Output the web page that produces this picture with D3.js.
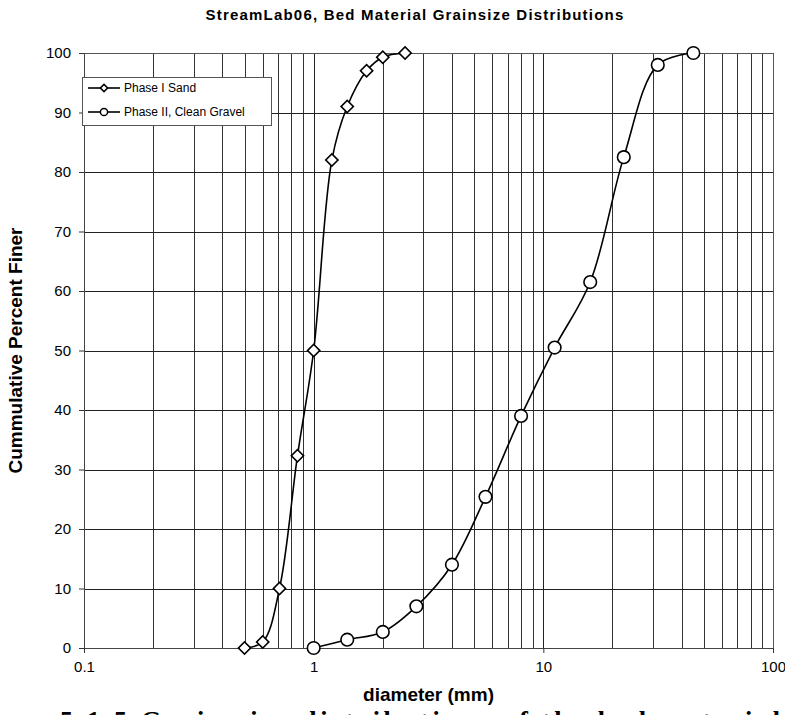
<!DOCTYPE html>
<html>
<head>
<meta charset="utf-8">
<script src="https://cdn.jsdelivr.net/npm/d3@7"></script>
<style>
  html, body { margin: 0; padding: 0; background: #fff; }
  svg { display: block; }
  text { font-family: "Liberation Sans", Arial, sans-serif; fill: #000; }
</style>
</head>
<body>
<svg id="chart" width="785" height="715"></svg>
<script>
// ---------------- data ----------------
const sandDiameters   = [0.5, 0.6, 0.71, 0.85, 1.0, 1.2, 1.4, 1.7, 2.0, 2.5];
const sandFiner       = [0, 1, 10, 32.3, 50, 82, 91, 97, 99.3, 100];
const gravelDiameters = [1, 1.4, 2, 2.8, 4, 5.6, 8, 11.2, 16, 22.4, 31.5, 45];
const gravelFiner     = [0, 1.4, 2.7, 7, 14, 25.4, 39, 50.5, 61.5, 82.5, 98, 100];
const seriesNames     = ["Phase I Sand", "Phase II, Clean Gravel"];
const xTickValues     = [0.1, 1, 10, 100];
const xTickLabels     = ["0.1", "1", "10", "100"];
const yTickValues     = [0, 10, 20, 30, 40, 50, 60, 70, 80, 90, 100];
const titleText   = "StreamLab06, Bed Material Grainsize Distributions";
const xLabelText  = "diameter (mm)";
const yLabelText  = "Cummulative Percent Finer";
const captionText = "5.1.5   Grain size distributions of the bed material";

// ---------------- layout ----------------
const svg = d3.select("#chart");
const L = 84, R = 773, T = 53, B = 648;

const x = d3.scaleLog().domain([0.1, 100]).range([L, R]);
const y = d3.scaleLinear().domain([0, 100]).range([B, T]);

// minor log grid values
const minorX = [];
[0.1, 1, 10].forEach(dec => { for (let k = 2; k <= 9; k++) minorX.push(+(dec * k).toPrecision(3)); });

const grid = svg.append("g");
grid.append("g")
  .attr("transform", `translate(0,${B})`)
  .call(d3.axisBottom(x).tickValues(minorX).tickSize(-(B - T)).tickFormat(""))
  .call(g => g.select(".domain").remove())
  .call(g => g.selectAll("line").attr("stroke", "#333").attr("stroke-width", 1).attr("shape-rendering", "crispEdges"));
grid.append("g")
  .attr("transform", `translate(0,${B})`)
  .call(d3.axisBottom(x).tickValues(xTickValues).tickSize(-(B - T)).tickFormat(""))
  .call(g => g.select(".domain").remove())
  .call(g => g.selectAll("line").attr("stroke", "#222").attr("stroke-width", 1).attr("shape-rendering", "crispEdges"));
grid.append("g")
  .attr("transform", `translate(${L},0)`)
  .call(d3.axisLeft(y).tickValues(yTickValues).tickSize(-(R - L)).tickFormat(""))
  .call(g => g.select(".domain").remove())
  .call(g => g.selectAll("line").attr("stroke", "#222").attr("stroke-width", 1).attr("shape-rendering", "crispEdges"));

// frame
svg.append("rect").attr("x", L).attr("y", T).attr("width", R - L).attr("height", B - T)
  .attr("fill", "none").attr("stroke", "#555").attr("stroke-width", 1).attr("shape-rendering", "crispEdges");

// axes
const yAxis = svg.append("g").attr("transform", `translate(${L},0)`)
  .call(d3.axisLeft(y).tickValues(yTickValues).tickSize(5).tickPadding(8));
yAxis.select(".domain").attr("stroke", "#444");
yAxis.selectAll("line").attr("stroke", "#333");
yAxis.selectAll("text").attr("font-size", 15).attr("font-family", "Liberation Sans, Arial, sans-serif");

const xAxis = svg.append("g").attr("transform", `translate(0,${B})`)
  .call(d3.axisBottom(x).tickValues(xTickValues).tickSize(5).tickPadding(8)
        .tickFormat((d, i) => xTickLabels[i]));
xAxis.select(".domain").attr("stroke", "#444");
xAxis.selectAll("line").attr("stroke", "#333");
xAxis.selectAll("text").attr("font-size", 15).attr("font-family", "Liberation Sans, Arial, sans-serif");

// ---------------- series ----------------
const sand = sandDiameters.map((d, i) => ({ d, v: sandFiner[i] }));
const gravel = gravelDiameters.map((d, i) => ({ d, v: gravelFiner[i] }));

const line = d3.line().x(p => x(p.d)).y(p => y(p.v)).curve(d3.curveCatmullRom.alpha(0.5));

svg.append("path").datum(sand).attr("d", line)
  .attr("fill", "none").attr("stroke", "#000").attr("stroke-width", 1.6);
svg.append("path").datum(gravel).attr("d", line)
  .attr("fill", "none").attr("stroke", "#000").attr("stroke-width", 1.6);

const diamond = d3.symbol().type(d3.symbolSquare).size(75);
svg.append("g").selectAll("path").data(sand).join("path")
  .attr("d", diamond)
  .attr("transform", p => `translate(${x(p.d)},${y(p.v)}) rotate(45)`)
  .attr("fill", "#fff").attr("stroke", "#000").attr("stroke-width", 1.6);

svg.append("g").selectAll("circle").data(gravel).join("circle")
  .attr("cx", p => x(p.d)).attr("cy", p => y(p.v)).attr("r", 6.3)
  .attr("fill", "#fff").attr("stroke", "#000").attr("stroke-width", 1.6);

// ---------------- legend ----------------
const lg = svg.append("g");
lg.append("rect").attr("x", 82).attr("y", 77).attr("width", 189).attr("height", 48)
  .attr("fill", "#fff").attr("stroke", "#555").attr("stroke-width", 1).attr("shape-rendering", "crispEdges");
const legendRows = [88, 112];
seriesNames.forEach((name, i) => {
  const ly = legendRows[i];
  lg.append("line").attr("x1", 88).attr("x2", 120).attr("y1", ly).attr("y2", ly)
    .attr("stroke", "#000").attr("stroke-width", 1.6);
  if (i === 0) {
    lg.append("path").attr("d", d3.symbol().type(d3.symbolSquare).size(26))
      .attr("transform", `translate(104,${ly}) rotate(45)`)
      .attr("fill", "#fff").attr("stroke", "#000").attr("stroke-width", 1.5);
  } else {
    lg.append("circle").attr("cx", 104).attr("cy", ly).attr("r", 3.6)
      .attr("fill", "#fff").attr("stroke", "#000").attr("stroke-width", 1.5);
  }
  lg.append("text").attr("x", 124).attr("y", ly).attr("dy", "0.35em")
    .attr("font-size", 12).text(name);
});

// ---------------- titles ----------------
svg.append("text").attr("x", 415).attr("y", 20).attr("text-anchor", "middle")
  .attr("font-size", 15).attr("font-weight", "bold").attr("letter-spacing", 1.2)
  .text(titleText);

svg.append("text").attr("transform", `translate(22,${(T + B) / 2}) rotate(-90)`)
  .attr("text-anchor", "middle").attr("font-size", 19).attr("font-weight", "bold")
  .text(yLabelText);

svg.append("text").attr("x", (L + R) / 2).attr("y", 701).attr("text-anchor", "middle")
  .attr("font-size", 19).attr("font-weight", "bold")
  .text(xLabelText);

svg.append("text").attr("x", 60).attr("y", 729)
  .attr("font-size", 26).attr("font-weight", "bold")
  .attr("textLength", 720).attr("lengthAdjust", "spacing")
  .style("font-family", "'Liberation Serif', 'Times New Roman', serif")
  .text(captionText);
</script>
</body>
</html>
